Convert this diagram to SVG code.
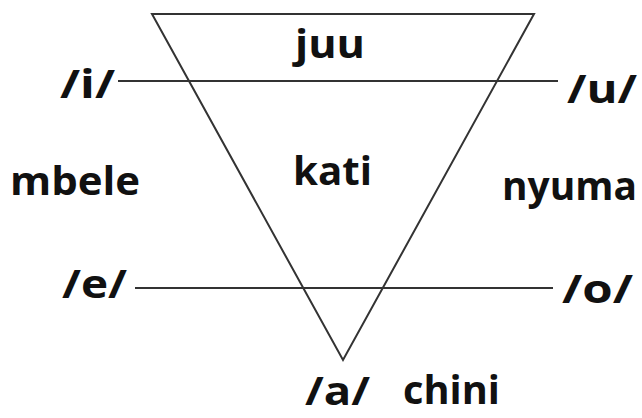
<svg xmlns="http://www.w3.org/2000/svg" width="642" height="418" viewBox="0 0 642 418">
<style>
.t{font-family:"Open Sans","Noto Sans","Liberation Sans",sans-serif;font-weight:bold;font-size:40px;fill:#111}
.ln{stroke:#333;stroke-width:2;fill:none}
</style>
<rect width="642" height="418" fill="#fff"/>
<g id="connectors">
<polygon id="triangle" class="ln" points="152,14 534,14 343,360" stroke-linejoin="miter"/>
<line class="ln" x1="118" y1="81" x2="558" y2="81"/>
<line class="ln" x1="135" y1="288" x2="553" y2="288"/>
</g>
<g id="juu"><text class="t" x="295" y="58" textLength="70" lengthAdjust="spacingAndGlyphs">juu</text></g>
<g id="kati"><text class="t" x="293" y="185" textLength="79" lengthAdjust="spacingAndGlyphs">kati</text></g>
<g id="i"><text class="t" x="60" y="98" textLength="55" lengthAdjust="spacingAndGlyphs">/i/</text></g>
<g id="u"><text class="t" x="567" y="103" textLength="70" lengthAdjust="spacingAndGlyphs">/u/</text></g>
<g id="mbele"><text class="t" x="10" y="195" textLength="130" lengthAdjust="spacingAndGlyphs">mbele</text></g>
<g id="nyuma"><text class="t" x="502" y="200" textLength="135" lengthAdjust="spacingAndGlyphs">nyuma</text></g>
<g id="e"><text class="t" x="62" y="298" textLength="65" lengthAdjust="spacingAndGlyphs">/e/</text></g>
<g id="o"><text class="t" x="562" y="303" textLength="71" lengthAdjust="spacingAndGlyphs">/o/</text></g>
<g id="a"><text class="t" x="305" y="405" textLength="65" lengthAdjust="spacingAndGlyphs">/a/</text></g>
<g id="chini"><text class="t" x="403" y="404" textLength="97" lengthAdjust="spacingAndGlyphs">chini</text></g>
</svg>
